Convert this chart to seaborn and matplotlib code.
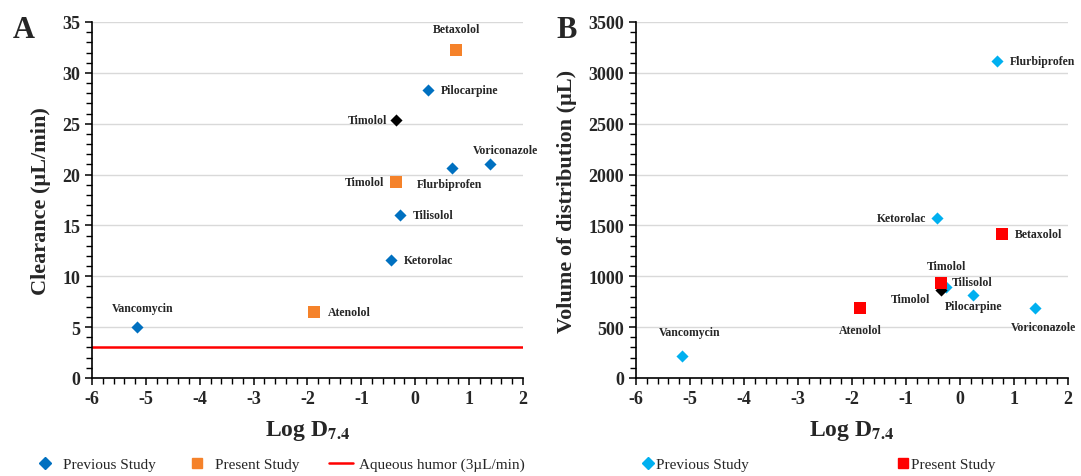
import numpy as np
import pandas as pd
import seaborn as sns
import matplotlib.pyplot as plt
from matplotlib.lines import Line2D
from matplotlib.ticker import MultipleLocator

# Panel A: clearance vs log D
a_prev_names = ["Vancomycin", "Ketorolac", "Tilisolol", "Flurbiprofen", "Pilocarpine", "Voriconazole"]
a_prev_logd = [-5.16, -0.45, -0.29, 0.68, 0.23, 1.38]
a_prev_cl = [5.0, 11.6, 16.0, 20.6, 28.3, 21.05]
a_timolol_logd = [-0.35]
a_timolol_cl = [25.35]
a_pres_names = ["Atenolol", "Timolol", "Betaxolol"]
a_pres_logd = [-1.87, -0.36, 0.76]
a_pres_cl = [6.45, 19.3, 32.2]
aqueous_humor = 3

# Panel B: volume of distribution vs log D
b_prev_names = ["Vancomycin", "Ketorolac", "Tilisolol", "Flurbiprofen", "Pilocarpine", "Voriconazole"]
b_prev_logd = [-5.15, -0.43, -0.25, 0.68, 0.25, 1.39]
b_prev_vd = [216, 1576, 892, 3112, 814, 690]
b_timolol_logd = [-0.35]
b_timolol_vd = [863]
b_pres_names = ["Atenolol", "Timolol", "Betaxolol"]
b_pres_logd = [-1.85, -0.35, 0.77]
b_pres_vd = [690, 938, 1418]

sns.set_style("ticks")
plt.rcParams['font.family'] = ['Liberation Serif', 'DejaVu Serif']
plt.rcParams['mathtext.fontset'] = 'stix'
plt.rcParams['axes.unicode_minus'] = False

fig = plt.figure(figsize=(10.81, 4.77), dpi=100)
ax1 = fig.add_axes([0.0851, 0.2055, 0.3987, 0.7463])
ax2 = fig.add_axes([0.5883, 0.2055, 0.3996, 0.7463])

# label offsets in pixels (dx, dy, ha)
a_prev_off = {"Vancomycin": (5, 19, 'center'), "Ketorolac": (13, 0, 'left'), "Tilisolol": (13, 0, 'left'),
              "Flurbiprofen": (-2, -16, 'center'), "Pilocarpine": (13, 0, 'left'), "Voriconazole": (16, 14, 'center')}
a_pres_off = {"Atenolol": (13, 0, 'left'), "Timolol": (-12, 0, 'right'), "Betaxolol": (0, 21, 'center')}
b_prev_off = {"Vancomycin": (8, 24, 'center'), "Ketorolac": (-10, 0, 'right'), "Tilisolol": (5, 5, 'left'),
              "Flurbiprofen": (13, 0, 'left'), "Pilocarpine": (0, -11, 'center'), "Voriconazole": (9, -19, 'center')}
b_pres_off = {"Atenolol": (0, -22, 'center'), "Timolol": (5, 17, 'center'), "Betaxolol": (13, 0, 'left')}


def label_points(ax, names, xs, ys, offsets):
    for n, x, y in zip(names, xs, ys):
        dx, dy, ha = offsets[n]
        ax.annotate(n, (x, y), xytext=(dx, dy), textcoords='offset pixels', ha=ha, va='center',
                    fontsize=8.5, fontweight='bold', annotation_clip=False)


def style_axis(ax, ymax, ymajor, yminor, ylabel):
    ax.set_xlim(-6, 2)
    ax.set_ylim(0, ymax)
    ax.xaxis.set_major_locator(MultipleLocator(1))
    ax.xaxis.set_minor_locator(MultipleLocator(0.2))
    ax.yaxis.set_major_locator(MultipleLocator(ymajor))
    ax.yaxis.set_minor_locator(MultipleLocator(yminor))
    ax.grid(axis='y', which='major', color='#d9d9d9', linewidth=1)
    ax.set_axisbelow(True)
    sns.despine(ax=ax)
    for s in ['left', 'bottom']:
        ax.spines[s].set_color('black')
        ax.spines[s].set_linewidth(1.2)
    ax.tick_params(which='major', length=5, width=1.1, color='black', labelsize=13)
    ax.tick_params(which='minor', length=4, width=1.0, color='black')
    for lab in ax.get_xticklabels() + ax.get_yticklabels():
        lab.set_fontweight('bold')
    ax.set_xlabel(r"Log D$_{\mathbf{7.4}}$", fontsize=17, fontweight='bold', labelpad=8)
    ax.set_ylabel(ylabel, fontsize=16, fontweight='bold', labelpad=8)


# ---- Panel A ----
ax1.axhline(aqueous_humor, color='#ff0000', linewidth=1.8, zorder=2)
sns.scatterplot(x=a_prev_logd, y=a_prev_cl, marker='D', color='#0070C0', s=38, linewidth=0, ax=ax1, zorder=3)
sns.scatterplot(x=a_timolol_logd, y=a_timolol_cl, marker='D', color='black', s=38, linewidth=0, ax=ax1, zorder=3)
sns.scatterplot(x=a_pres_logd, y=a_pres_cl, marker='s', color='#F5822A', s=70, linewidth=0, ax=ax1, zorder=3)
label_points(ax1, a_prev_names, a_prev_logd, a_prev_cl, a_prev_off)
label_points(ax1, ["Timolol"], a_timolol_logd, a_timolol_cl, {"Timolol": (-9, 0, 'right')})
label_points(ax1, a_pres_names, a_pres_logd, a_pres_cl, a_pres_off)
style_axis(ax1, 35, 5, 1, "Clearance (µL/min)")

# ---- Panel B ----
sns.scatterplot(x=b_prev_logd, y=b_prev_vd, marker='D', color='#00B0F0', s=38, linewidth=0, ax=ax2, zorder=3)
sns.scatterplot(x=b_timolol_logd, y=b_timolol_vd, marker='D', color='black', s=38, linewidth=0, ax=ax2, zorder=3)
sns.scatterplot(x=b_pres_logd, y=b_pres_vd, marker='s', color='#ff0000', s=70, linewidth=0, ax=ax2, zorder=4)
label_points(ax2, b_prev_names, b_prev_logd, b_prev_vd, b_prev_off)
label_points(ax2, ["Timolol"], b_timolol_logd, b_timolol_vd, {"Timolol": (-11, -9, 'right')})
label_points(ax2, b_pres_names, b_pres_logd, b_pres_vd, b_pres_off)
style_axis(ax2, 3500, 500, 100, "Volume of distribution (µL)")

# panel letters
fig.text(0.022, 0.937, "A", fontsize=22, fontweight='bold', ha='center', va='center')
fig.text(0.524, 0.937, "B", fontsize=22, fontweight='bold', ha='center', va='center')

# legends
h_a = [Line2D([], [], marker='D', color='#0070C0', linestyle='none', markersize=6),
       Line2D([], [], marker='s', color='#F5822A', linestyle='none', markersize=7.5),
       Line2D([], [], color='#ff0000', linewidth=1.8)]
fig.legend(h_a, ["Previous Study", "Present Study", "Aqueous humor (3µL/min)"], loc='center',
           bbox_to_anchor=(0.258, 0.024), ncol=3, frameon=False, fontsize=11,
           handlelength=1.6, handletextpad=0.4, columnspacing=1.9)
h_b = [Line2D([], [], marker='D', color='#00B0F0', linestyle='none', markersize=6),
       Line2D([], [], marker='s', color='#ff0000', linestyle='none', markersize=7.5)]
fig.legend(h_b, ["Previous Study", "Present Study"], loc='center',
           bbox_to_anchor=(0.758, 0.024), ncol=2, frameon=False, fontsize=11,
           handlelength=0.6, handletextpad=0.2, columnspacing=9.8)

plt.savefig('out.png', dpi=100)
